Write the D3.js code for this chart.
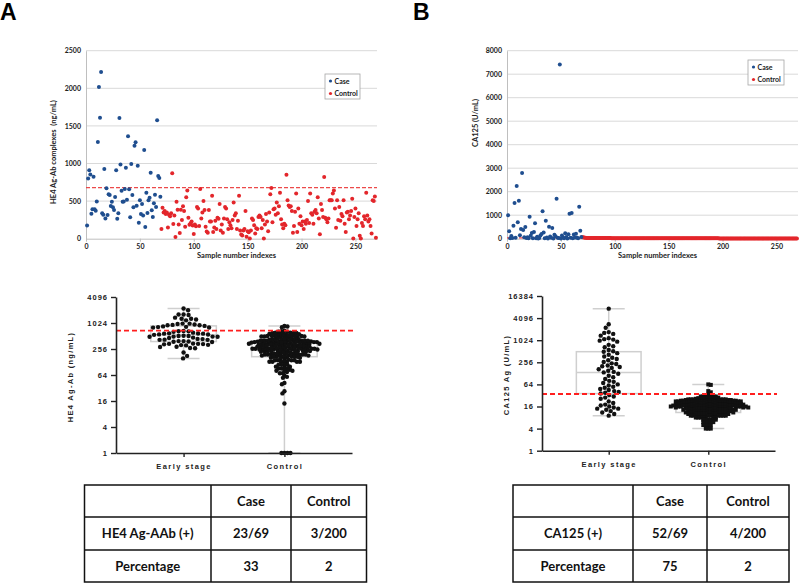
<!DOCTYPE html>
<html><head><meta charset="utf-8">
<script src="https://cdn.jsdelivr.net/npm/d3@7"></script>
<style>body{margin:0;background:#fff}svg{display:block}</style>
</head><body>
<svg id="c" width="800" height="583"></svg>
<script>
// ---------------- data ----------------
const indexTicks = [0, 50, 100, 150, 200, 250];
const he4Ticks = [0, 500, 1000, 1500, 2000, 2500];
const ca125Ticks = [0, 1000, 2000, 3000, 4000, 5000, 6000, 7000, 8000];
const logTicksA = [1, 4, 16, 64, 256, 1024, 4096];
const logTicksB = [1, 4, 16, 64, 256, 1024, 4096, 16384];
const groups = ["Early stage", "Control"];
const legendLabels = ["Case", "Control"];
const he4Cut = 680;
const ca125Cut = 35;

// HE4 Ag-Ab complexes (ng/mL), cases = samples 1..69
const he4Case = [177, 802, 909, 855, 332, 390, 824, 390, 372, 496,
  1285, 2017, 1609, 2216, 337, 319, 926, 270, 670, 315,
  590, 580, 434, 492, 417, 381, 554, 909, 266, 337,
  1605, 988, 638, 492, 496, 660, 944, 519, 1361, 656,
  284, 993, 580, 417, 1237, 1281, 439, 971, 213, 510,
  328, 461, 310, 1179, 155, 612, 341, 510, 545, 878,
  377, 288, 470, 585, 421, 1574, 833, 807, 558];
// controls = samples 70..269
const he4Ctrl = [128, 410, 350, 370, 330, 350, 150, 320, 300, 340,
  870, 195, 310, 24, 490, 385, 190, 75, 385, 250,
  430, 370, 160, 550, 640, 280, 185, 205, 230, 175,
  62, 190, 165, 420, 400, 170, 660, 270, 350, 500,
  380, 160, 95, 80, 380, 230, 230, 570, 90, 150,
  240, 130, 280, 265, 460, 110, 190, 80, 270, 420,
  400, 260, 130, 220, 180, 140, 250, 480, 310, 340,
  130, 240, 570, 110, 55, 42, 110, 130, 370, 27,
  100, 85, 1, 110, 270, 250, 180, 70, 140, 130,
  290, 310, 290, 140, 250, 1, 190, 330, 230, 100,
  350, 590, 675, 220, 390, 400, 320, 480, 340, 430,
  610, 260, 190, 140, 200, 180, 850, 510, 440, 420,
  430, 370, 80, 170, 360, 600, 90, 400, 200, 300,
  180, 230, 130, 230, 200, 250, 500, 210, 600, 340,
  320, 200, 360, 380, 340, 550, 270, 58, 460, 380,
  290, 820, 280, 260, 220, 270, 510, 510, 510, 600,
  640, 400, 145, 510, 250, 420, 240, 330, 300, 510,
  200, 90, 350, 360, 260, 310, 370, 530, 1, 290,
  400, 170, 260, 340, 39, 1, 210, 170, 300, 260,
  610, 310, 230, 260, 170, 70, 510, 500, 560, 14];

// CA125 (U/mL)
const ca125Case = [995, 315, 20, 110, 30, 553, 1519, 40, 2242, 698,
  1617, 150, 413, 2795, 370, 60, 498, 28, 64, 14,
  936, 125, 240, 18, 290, 655, 22, 80, 12, 33,
  136, 200, 1166, 260, 16, 766, 48, 9, 511, 90,
  45, 455, 13, 165, 100, 1702, 36, 26, 7416, 10,
  140, 52, 17, 230, 70, 11, 190, 1064, 38, 1094,
  15, 180, 55, 210, 42, 14, 1362, 340, 75];
const ca125Ctrl = [64, 62, 42, 39, 33, 33, 31, 31, 30, 30,
  30, 28, 28, 28, 27, 27, 27, 26, 26, 26,
  26, 25, 25, 25, 25, 25, 25, 24, 24, 24,
  24, 24, 24, 23, 23, 23, 23, 23, 23, 23,
  22, 22, 22, 22, 22, 22, 22, 22, 21, 21,
  21, 21, 21, 21, 21, 21, 20, 20, 20, 20,
  20, 20, 20, 20, 20, 19, 19, 19, 19, 19,
  19, 19, 19, 19, 18, 18, 18, 18, 18, 18,
  18, 18, 18, 18, 17, 17, 17, 17, 17, 17,
  17, 17, 17, 17, 16, 16, 16, 16, 16, 16,
  16, 16, 16, 16, 16, 15, 15, 15, 15, 15,
  15, 15, 15, 15, 15, 15, 14, 14, 14, 14,
  14, 14, 14, 14, 14, 14, 14, 13, 13, 13,
  13, 13, 13, 13, 13, 13, 13, 13, 12, 12,
  12, 12, 12, 12, 12, 12, 12, 12, 11, 11,
  11, 11, 11, 11, 11, 11, 11, 11, 10, 10,
  10, 10, 10, 10, 10, 10, 10, 9, 9, 9,
  9, 9, 9, 9, 9, 8, 8, 8, 8, 8,
  8, 8, 7, 7, 7, 7, 7, 7, 6, 6,
  6, 6, 6, 5, 5, 5, 5, 4, 4, 4];

const tableHeader = ["", "Case", "Control"];
const tableA = [["HE4 Ag-AAb (+)", "23/69", "3/200"], ["Percentage", "33", "2"]];
const tableB = [["CA125 (+)", "52/69", "4/200"], ["Percentage", "75", "2"]];

// ---------------- drawing ----------------
const svg = d3.select("#c");
const BLUE = "#1f4e8f", RED = "#e3262b";
const xlFont = "Lato, 'Open Sans', sans-serif";
const pzFont = "'Liberation Sans', Arial, sans-serif";

svg.append("text").attr("x", 0).attr("y", 20).attr("font-family", pzFont)
  .attr("font-weight", 700).attr("font-size", 23).text("A");
svg.append("text").attr("x", 413).attr("y", 20).attr("font-family", pzFont)
  .attr("font-weight", 700).attr("font-size", 23).text("B");

function scatter(o) {
  const g = svg.append("g");
  const x = d3.scaleLinear().domain([0, 270]).range([o.x0, o.x1]);
  const y = d3.scaleLinear().domain([0, o.ymax]).range([238.7, 50.7]);
  g.selectAll(".gr").data(o.yTicks.slice(1)).join("line")
    .attr("x1", o.x0).attr("x2", o.x1).attr("y1", d => y(d)).attr("y2", d => y(d))
    .attr("stroke", "#d9d9d9").attr("stroke-width", 1);
  const ya = g.append("g").attr("transform", `translate(${o.x0},0)`)
    .call(d3.axisLeft(y).tickValues(o.yTicks).tickFormat(d3.format("d")).tickSize(0).tickPadding(5));
  ya.select(".domain").attr("stroke", "#bfbfbf");
  ya.selectAll("text").attr("font-family", xlFont).attr("font-weight", 700)
    .attr("font-size", 7).attr("fill", "#222");
  const xa = g.append("g").attr("transform", `translate(0,238.7)`)
    .call(d3.axisBottom(x).tickValues(indexTicks).tickFormat(d3.format("d")).tickSize(3).tickSizeOuter(0).tickPadding(2));
  xa.select(".domain").attr("stroke", "#bfbfbf");
  xa.selectAll("line").attr("stroke", "#bfbfbf");
  xa.selectAll("text").attr("font-family", xlFont).attr("font-weight", 700)
    .attr("font-size", 7).attr("fill", "#222");
  g.append("line").attr("x1", o.x0).attr("x2", o.x1)
    .attr("y1", y(o.cut)).attr("y2", y(o.cut))
    .attr("stroke", "#ec4a4a").attr("stroke-width", 1.2).attr("stroke-dasharray", "4,2");
  g.selectAll(".cs").data(o.ctrl).join("circle")
    .attr("cx", (d, i) => x(o.cases.length + 1 + i)).attr("cy", d => y(d))
    .attr("r", 2).attr("fill", RED);
  g.selectAll(".ca").data(o.cases).join("circle")
    .attr("cx", (d, i) => x(i + 1)).attr("cy", d => y(d))
    .attr("r", 2).attr("fill", BLUE);
  g.append("text").attr("x", (o.x0 + o.x1) / 2 + 5).attr("y", 258)
    .attr("text-anchor", "middle").attr("font-family", xlFont).attr("font-weight", 700)
    .attr("font-size", 7.5).attr("fill", "#222").text("Sample number indexes");
  g.append("text").attr("transform", `translate(${o.tx},${o.ty}) rotate(-90)`)
    .attr("text-anchor", "middle").attr("font-family", xlFont).attr("font-weight", 700)
    .attr("font-size", 7.5).attr("fill", "#222").attr("xml:space", "preserve").text(o.ytitle);
  const lg = g.append("g").attr("transform", `translate(${o.lx},${o.ly})`);
  lg.append("rect").attr("width", o.lw).attr("height", 25).attr("fill", "#fff")
    .attr("stroke", "#a6a6a6").attr("stroke-width", 0.8);
  legendLabels.forEach((t, i) => {
    lg.append("circle").attr("cx", 5.5).attr("cy", 7 + i * 12.5).attr("r", 1.6)
      .attr("fill", i === 0 ? BLUE : RED);
    lg.append("text").attr("x", 9.5).attr("y", 9.5 + i * 12.5).attr("font-family", xlFont)
      .attr("font-weight", 700).attr("font-size", 7).attr("fill", "#222").text(t);
  });
}

scatter({x0: 86, x1: 377, ymax: 2500, yTicks: he4Ticks, cases: he4Case, ctrl: he4Ctrl,
  cut: he4Cut, ytitle: "HE4 Ag-Ab complexes  (ng/mL)", tx: 56, ty: 152,
  lx: 325, ly: 74, lw: 35});
scatter({x0: 507, x1: 798, ymax: 8000, yTicks: ca125Ticks, cases: ca125Case, ctrl: ca125Ctrl,
  cut: ca125Cut, ytitle: "CA125 (U/mL)", tx: 478, ty: 123,
  lx: 748, ly: 60, lw: 36});

function swarm(vals, y, cx, d, square) {
  const pts = vals.map(v => ({v, y: y(Math.max(v, 1))}));
  const sorted = pts.slice().sort((a, b) => a.y - b.y);
  const placed = [];
  sorted.forEach((p, idx) => {
    const near = placed.filter(q => Math.abs(q.y - p.y) < d);
    const sgn = idx % 2 ? 1 : -1;
    let best = 0;
    for (let k = 0; k < 600; k++) {
      const off = k === 0 ? 0 : (k % 2 === 1 ? sgn : -sgn) * Math.ceil(k / 2) * 0.5;
      const xx = cx + off;
      let ok = true;
      for (const q of near) {
        const dx = q.x - xx, dy = q.y - p.y;
        if (square ? (Math.abs(dx) < d && Math.abs(dy) < d) : (dx * dx + dy * dy < d * d)) { ok = false; break; }
      }
      if (ok) { best = off; break; }
    }
    p.x = cx + best;
    placed.push(p);
  });
  return pts;
}

function dotplot(o) {
  const g = svg.append("g");
  const y = d3.scaleLog().base(2).domain([1, o.ymax]).range([o.yb, o.yt]);
  const x = d3.scalePoint().domain(groups).range([o.x0, o.x1]).padding(0.67);
  const step = x.step();
  const sets = [o.early, o.ctrl];
  sets.forEach((vals, gi) => {
    const s = vals.map(v => Math.max(v, 1)).sort(d3.ascending);
    const q1 = d3.quantile(s, 0.25), md = d3.quantile(s, 0.5), q3 = d3.quantile(s, 0.75);
    const cx = x(groups[gi]), bw = step * 0.65, cw = 32;
    const bg = g.append("g").attr("stroke", "#cfcfcf").attr("stroke-width", 1.5).attr("fill", "none");
    bg.append("line").attr("x1", cx).attr("x2", cx).attr("y1", y(s[0])).attr("y2", y(q1));
    bg.append("line").attr("x1", cx).attr("x2", cx).attr("y1", y(q3)).attr("y2", y(s[s.length - 1]));
    bg.append("rect").attr("x", cx - bw / 2).attr("width", bw).attr("y", y(q3)).attr("height", y(q1) - y(q3));
    bg.append("line").attr("x1", cx - bw / 2).attr("x2", cx + bw / 2).attr("y1", y(md)).attr("y2", y(md));
    [s[0], s[s.length - 1]].forEach(v => bg.append("line").attr("x1", cx - cw / 2).attr("x2", cx + cw / 2)
      .attr("y1", y(v)).attr("y2", y(v)));
  });
  sets.forEach((vals, gi) => {
    const sq = gi === 1 && o.ctrlSquare;
    const pts = swarm(vals, y, x(groups[gi]), gi === 0 ? o.dE : o.dC, sq);
    if (sq) {
      g.selectAll(null).data(pts).join("rect").attr("x", d => d.x - 2).attr("y", d => d.y - 2)
        .attr("width", 4).attr("height", 4).attr("fill", "#111");
    } else {
      g.selectAll(null).data(pts).join("circle").attr("cx", d => d.x).attr("cy", d => d.y)
        .attr("r", 2.2).attr("fill", "#111");
    }
  });
  g.append("line").attr("x1", o.x0).attr("x2", o.x1 + 2).attr("y1", y(o.cut)).attr("y2", y(o.cut))
    .attr("stroke", "#ff1f1f").attr("stroke-width", 1.8).attr("stroke-dasharray", "5,3");
  const ya = g.append("g").attr("transform", `translate(${o.x0},0)`)
    .call(d3.axisLeft(y).tickValues(o.ticks).tickFormat(d3.format("d")).tickSize(5).tickSizeOuter(0).tickPadding(3));
  ya.select(".domain").attr("stroke", "#222").attr("stroke-width", 1.6);
  ya.selectAll("line").attr("stroke", "#222").attr("stroke-width", 1.4);
  ya.selectAll("text").attr("font-family", pzFont).attr("font-weight", 700).attr("font-size", 7.5)
    .attr("letter-spacing", 1).attr("fill", "#222");
  const xa = g.append("g").attr("transform", `translate(0,${o.yb})`)
    .call(d3.axisBottom(x).tickSize(4).tickSizeOuter(0).tickPadding(7));
  xa.select(".domain").attr("stroke", "#222").attr("stroke-width", 1.6);
  xa.selectAll("line").attr("stroke", "#222").attr("stroke-width", 1.4);
  xa.selectAll("text").attr("font-family", pzFont).attr("font-weight", 700).attr("font-size", 7.5)
    .attr("letter-spacing", 1.4).attr("fill", "#222");
  g.append("text").attr("transform", `translate(${o.tx},${o.ty}) rotate(-90)`)
    .attr("text-anchor", "middle").attr("font-family", pzFont).attr("font-weight", 700)
    .attr("font-size", 7.5).attr("letter-spacing", 1.3).attr("fill", "#222").text(o.title);
}

dotplot({x0: 116, x1: 352, yb: 453, yt: 297, ymax: 4096, ticks: logTicksA,
  early: he4Case, ctrl: he4Ctrl, cut: he4Cut, dE: 4.6, dC: 2.7, ctrlSquare: false,
  title: "HE4 Ag-Ab (ng/mL)", tx: 73, ty: 377});
dotplot({x0: 542, x1: 775, yb: 450.7, yt: 296, ymax: 16384, ticks: logTicksB,
  early: ca125Case, ctrl: ca125Ctrl, cut: ca125Cut, dE: 4.4, dC: 2.1, ctrlSquare: true,
  title: "CA125 Ag (U/mL)", tx: 509, ty: 375});

function table(x0, x1, c1, c2, rows) {
  const g = svg.append("g");
  const ys = [485, 517, 550, 582];
  const xs = [x0, c1, c2, x1];
  g.append("rect").attr("x", x0).attr("y", ys[0]).attr("width", x1 - x0).attr("height", ys[3] - ys[0])
    .attr("fill", "none").attr("stroke", "#111").attr("stroke-width", 1.5);
  [c1, c2].forEach(c => g.append("line").attr("x1", c).attr("x2", c).attr("y1", ys[0]).attr("y2", ys[3])
    .attr("stroke", "#111").attr("stroke-width", 1.5));
  [ys[1], ys[2]].forEach(v => g.append("line").attr("x1", x0).attr("x2", x1).attr("y1", v).attr("y2", v)
    .attr("stroke", "#111").attr("stroke-width", 1.5));
  const all = [tableHeader].concat(rows);
  all.forEach((r, ri) => r.forEach((t, ci) => {
    g.append("text").attr("x", (xs[ci] + xs[ci + 1]) / 2).attr("y", (ys[ri] + ys[ri + 1]) / 2 + 4.5)
      .attr("text-anchor", "middle").attr("font-family", xlFont).attr("font-weight", 700)
      .attr("font-size", 13).attr("fill", "#111").text(t);
  }));
}
table(84.5, 366.5, 211, 291, tableA);
table(513, 789, 633, 707, tableB);
</script>
</body></html>
